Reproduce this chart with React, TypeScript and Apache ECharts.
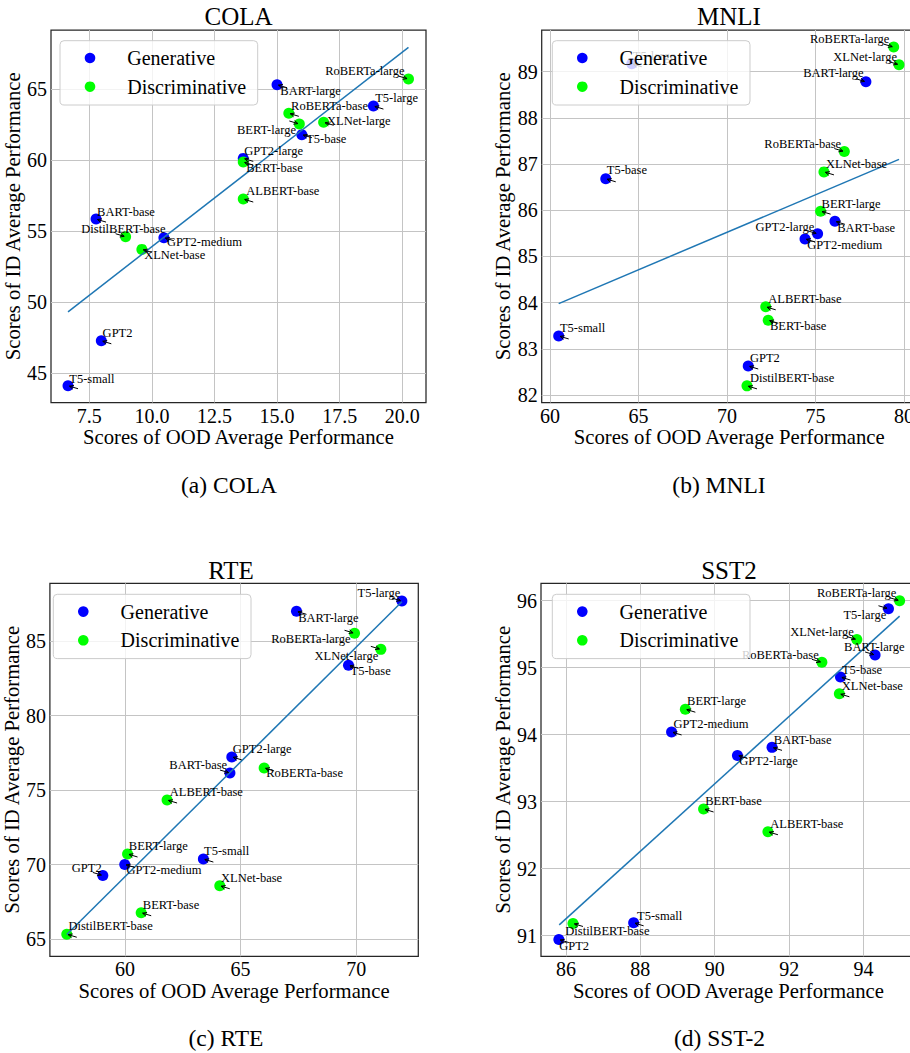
import React, { useEffect, useRef } from "react";
import * as echarts from "echarts";

const FONT = "'Liberation Serif', 'Times New Roman', Tinos, 'DejaVu Serif', serif";

type Pt = [string, number, number];

// ---------------- DATA ----------------
const SERIES_NAMES = ["Generative", "Discriminative"];

const COLA_GENERATIVE: Pt[] = [
  ["BART-large", 15.0, 65.3],
  ["T5-large", 18.85, 63.8],
  ["T5-base", 15.99, 61.79],
  ["GPT2-large", 13.65, 60.12],
  ["BART-base", 7.77, 55.85],
  ["GPT2-medium", 10.48, 54.54],
  ["GPT2", 7.98, 47.29],
  ["T5-small", 6.65, 44.13],
];
const COLA_DISCRIMINATIVE: Pt[] = [
  ["RoBERTa-large", 20.25, 65.7],
  ["RoBERTa-base", 15.47, 63.29],
  ["BERT-large", 15.89, 62.54],
  ["XLNet-large", 16.86, 62.66],
  ["BERT-base", 13.65, 59.86],
  ["ALBERT-base", 13.65, 57.26],
  ["DistilBERT-base", 8.95, 54.61],
  ["XLNet-base", 9.6, 53.72],
];
const COLA_TREND: [number, number][] = [[6.65, 49.33], [20.25, 67.93]];
const COLA_X_TICKS = [7.5, 10, 12.5, 15, 17.5, 20];
const COLA_Y_TICKS = [45, 50, 55, 60, 65];

const MNLI_GENERATIVE: Pt[] = [
  ["T5-large", 64.62, 89.17],
  ["BART-large", 77.85, 88.78],
  ["T5-base", 63.15, 86.68],
  ["BART-base", 76.1, 85.76],
  ["GPT2-large", 75.12, 85.49],
  ["GPT2-medium", 74.41, 85.38],
  ["T5-small", 60.49, 83.28],
  ["GPT2", 71.2, 82.63],
];
const MNLI_DISCRIMINATIVE: Pt[] = [
  ["RoBERTa-large", 79.42, 89.53],
  ["XLNet-large", 79.72, 89.15],
  ["RoBERTa-base", 76.63, 87.27],
  ["XLNet-base", 75.48, 86.83],
  ["BERT-large", 75.29, 85.98],
  ["ALBERT-base", 72.19, 83.91],
  ["BERT-base", 72.33, 83.62],
  ["DistilBERT-base", 71.13, 82.2],
];
const MNLI_TREND: [number, number][] = [[60.49, 83.98], [79.72, 87.1]];
const MNLI_X_TICKS = [60, 65, 70, 75, 80];
const MNLI_Y_TICKS = [82, 83, 84, 85, 86, 87, 88, 89];

const RTE_GENERATIVE: Pt[] = [
  ["T5-large", 71.98, 87.68],
  ["BART-large", 67.42, 86.99],
  ["T5-base", 69.67, 83.37],
  ["GPT2-large", 64.62, 77.23],
  ["BART-base", 64.54, 76.15],
  ["T5-small", 63.39, 70.38],
  ["GPT2-medium", 59.99, 70.02],
  ["GPT2", 59.04, 69.28],
];
const RTE_DISCRIMINATIVE: Pt[] = [
  ["RoBERTa-large", 69.93, 85.52],
  ["XLNet-large", 71.07, 84.44],
  ["RoBERTa-base", 66.02, 76.49],
  ["ALBERT-base", 61.82, 74.34],
  ["BERT-large", 60.11, 70.72],
  ["XLNet-base", 64.1, 68.59],
  ["BERT-base", 60.7, 66.78],
  ["DistilBERT-base", 57.48, 65.34],
];
const RTE_TREND: [number, number][] = [[57.48, 65.32], [71.98, 87.63]];
const RTE_X_TICKS = [60, 65, 70];
const RTE_Y_TICKS = [65, 70, 75, 80, 85];

const SST2_GENERATIVE: Pt[] = [
  ["T5-large", 94.67, 95.88],
  ["BART-large", 94.31, 95.19],
  ["T5-base", 93.38, 94.86],
  ["GPT2-medium", 88.84, 94.04],
  ["BART-base", 91.54, 93.81],
  ["GPT2-large", 90.61, 93.69],
  ["T5-small", 87.82, 91.19],
  ["GPT2", 85.81, 90.94],
];
const SST2_DISCRIMINATIVE: Pt[] = [
  ["RoBERTa-large", 94.97, 96.0],
  ["XLNet-large", 93.82, 95.42],
  ["RoBERTa-base", 92.88, 95.08],
  ["XLNet-base", 93.35, 94.61],
  ["BERT-large", 89.21, 94.38],
  ["BERT-base", 89.7, 92.89],
  ["ALBERT-base", 91.43, 92.55],
  ["DistilBERT-base", 86.19, 91.18],
];
const SST2_TREND: [number, number][] = [[85.82, 91.16], [94.97, 95.77]];
const SST2_X_TICKS = [86, 88, 90, 92, 94];
const SST2_Y_TICKS = [91, 92, 93, 94, 95, 96];

// ---------------- LAYOUT (label offsets in px, relative to point) ----------------
const COLA_LABEL_OFFSETS: Record<string, [number, number]> = {
  "BART-large": [3.3, 6], "RoBERTa-large": [-83.3, -7.7], "T5-large": [1.7, -7.8],
  "RoBERTa-base": [2.3, -7.1], "BERT-large": [-62.3, 6.5], "XLNet-large": [3.4, -1],
  "T5-base": [4.3, 4.8], "GPT2-large": [1, -7], "BERT-base": [3, 5.5], "ALBERT-base": [3, -7.7],
  "BART-base": [1, -7.3], "DistilBERT-base": [-44.3, -8], "GPT2-medium": [3, 4],
  "XLNet-base": [2.3, 5.4], "GPT2": [1.3, -7.9], "T5-small": [1.3, -7.2],
};
const MNLI_LABEL_OFFSETS: Record<string, [number, number]> = {
  "RoBERTa-large": [-83.7, -7.8], "XLNet-large": [-65.7, -8], "BART-large": [-62.7, -8.9],
  "T5-large": [1, -8], "RoBERTa-base": [-80, -8], "XLNet-base": [2, -8.2], "T5-base": [1, -8.4],
  "BERT-large": [1, -7.5], "BART-base": [2.3, 6.2], "GPT2-large": [-62, -6.8],
  "GPT2-medium": [2.3, 6], "ALBERT-base": [2.6, -7.5], "BERT-base": [1.7, 5.9],
  "T5-small": [1.3, -7.7], "GPT2": [1.7, -7.7], "DistilBERT-base": [3, -7.7],
};
const RTE_LABEL_OFFSETS: Record<string, [number, number]> = {
  "T5-large": [-44.4, -8.2], "BART-large": [1.7, 6.7], "RoBERTa-large": [-83.3, 6.2],
  "XLNet-large": [-66.3, 6.5], "T5-base": [2, 6], "GPT2-large": [1, -7.8], "BART-base": [-60.6, -8],
  "RoBERTa-base": [2, 5.5], "ALBERT-base": [2.7, -7.8], "BERT-large": [1.3, -7.7],
  "T5-small": [0.7, -7.7], "GPT2-medium": [1.7, 5.8], "GPT2": [-31, -7.9], "XLNet-base": [1.3, -8],
  "BERT-base": [1.6, -7.4], "DistilBERT-base": [1.7, -8],
};
const SST2_LABEL_OFFSETS: Record<string, [number, number]> = {
  "RoBERTa-large": [-82.6, -7.3], "T5-large": [-45, 6.3], "XLNet-large": [-66.7, -7.3],
  "BART-large": [-31, -7.8], "RoBERTa-base": [-80, -7], "T5-base": [1.4, -7], "XLNet-base": [2.4, -8],
  "BERT-large": [1.7, -8.2], "GPT2-medium": [2, -8], "BART-base": [1.6, -7.8], "GPT2-large": [1.7, 6],
  "BERT-base": [1.7, -7.8], "ALBERT-base": [2.3, -7.6], "T5-small": [3.4, -7],
  "DistilBERT-base": [-7.7, 7.6], "GPT2": [0.3, 6.2],
};

const COLORS = ["#0000ff", "#00ff00"];

const PANELS = [
  {
    title: "COLA", caption: "(a) COLA", titlePos: [238.5, 16.7], captionPos: [229, 484.5],
    gen: COLA_GENERATIVE, disc: COLA_DISCRIMINATIVE, trend: COLA_TREND,
    xTicks: COLA_X_TICKS, yTicks: COLA_Y_TICKS, xDec: 1,
    grid: { left: 51, top: 30, width: 375, height: 372.5 },
    xRange: [5.97, 20.95], yRange: [42.95, 69.15],
    legendPos: [60, 40.7], offsets: COLA_LABEL_OFFSETS,
  },
  {
    title: "MNLI", caption: "(b) MNLI", titlePos: [729, 16.7], captionPos: [719, 484.5],
    gen: MNLI_GENERATIVE, disc: MNLI_DISCRIMINATIVE, trend: MNLI_TREND,
    xTicks: MNLI_X_TICKS, yTicks: MNLI_Y_TICKS, xDec: 0,
    grid: { left: 541.7, top: 30, width: 375, height: 372.5 },
    xRange: [59.53, 80.72], yRange: [81.84, 89.9],
    legendPos: [552.3, 40.7], offsets: MNLI_LABEL_OFFSETS,
  },
  {
    title: "RTE", caption: "(c) RTE", titlePos: [231, 570.8], captionPos: [226, 1037.5],
    gen: RTE_GENERATIVE, disc: RTE_DISCRIMINATIVE, trend: RTE_TREND,
    xTicks: RTE_X_TICKS, yTicks: RTE_Y_TICKS, xDec: 0,
    grid: { left: 42.7, top: 583.3, width: 375.6, height: 373 },
    xRange: [56.75, 72.69], yRange: [63.86, 88.87],
    legendPos: [53.3, 594.3], offsets: RTE_LABEL_OFFSETS,
  },
  {
    title: "SST2", caption: "(d) SST-2", titlePos: [729, 570.8], captionPos: [719.5, 1037.5],
    gen: SST2_GENERATIVE, disc: SST2_DISCRIMINATIVE, trend: SST2_TREND,
    xTicks: SST2_X_TICKS, yTicks: SST2_Y_TICKS, xDec: 0,
    grid: { left: 541, top: 583.3, width: 375, height: 373 },
    xRange: [85.33, 95.41], yRange: [90.69, 96.26],
    legendPos: [552.3, 594.3], offsets: SST2_LABEL_OFFSETS,
  },
];

function makeLabelRenderer(names: string[], offsets: Record<string, [number, number]>) {
  return (params: any, api: any) => {
    const name = names[params.dataIndex];
    const p = api.coord([api.value(0), api.value(1)]);
    const [dx, dy] = offsets[name] || [2, -8];
    const leftSide = dx < -10;
    const tail = leftSide ? [p[0] - 10, p[1] - 3] : [p[0] + 10, p[1] + 3];
    const ang = Math.atan2(p[1] - tail[1], p[0] - tail[0]);
    const head = [p[0] - Math.cos(ang) * 1.5, p[1] - Math.sin(ang) * 1.5];
    const hl = 4.5;
    const ha = 0.45;
    const w1 = [head[0] - hl * Math.cos(ang - ha), head[1] - hl * Math.sin(ang - ha)];
    const w2 = [head[0] - hl * Math.cos(ang + ha), head[1] - hl * Math.sin(ang + ha)];
    return {
      type: "group",
      children: [
        { type: "line", shape: { x1: tail[0], y1: tail[1], x2: head[0], y2: head[1] }, style: { stroke: "#000", lineWidth: 1 } },
        { type: "polyline", shape: { points: [w1, head, w2] }, style: { stroke: "#000", lineWidth: 1, fill: null } },
        {
          type: "text", x: p[0] + dx, y: p[1] + dy,
          style: { text: name, fontFamily: FONT, fontSize: 12.5, fill: "#000", align: "left", verticalAlign: "middle" },
        },
      ],
    };
  };
}

function buildOption() {
  const grid: any[] = [];
  const xAxis: any[] = [];
  const yAxis: any[] = [];
  const series: any[] = [];
  const graphic: any[] = [];

  PANELS.forEach((pn, i) => {
    grid.push({ ...pn.grid, show: true, borderColor: "#262626", borderWidth: 1.25, backgroundColor: "transparent", containLabel: false });
    xAxis.push({
      gridIndex: i, type: "value", min: pn.xRange[0], max: pn.xRange[1],
      axisLine: { show: false }, axisTick: { show: false, customValues: pn.xTicks },
      axisLabel: {
        customValues: pn.xTicks, fontFamily: FONT, fontSize: 20, color: "#000", margin: 3,
        formatter: (v: number) => v.toFixed(pn.xDec),
      },
      splitLine: { show: true, lineStyle: { color: "#c4c4c4", width: 1 } },
      name: "Scores of OOD Average Performance", nameLocation: "middle", nameGap: 18,
      nameTextStyle: { fontFamily: FONT, fontSize: 20.7, color: "#000" },
    });
    yAxis.push({
      gridIndex: i, type: "value", min: pn.yRange[0], max: pn.yRange[1],
      axisLine: { show: false }, axisTick: { show: false, customValues: pn.yTicks },
      axisLabel: { customValues: pn.yTicks, fontFamily: FONT, fontSize: 20, color: "#000", margin: 4, formatter: (v: number) => String(v) },
      splitLine: { show: true, lineStyle: { color: "#c4c4c4", width: 1 } },
      name: "Scores of ID Average Performance", nameLocation: "middle", nameGap: 22,
      nameTextStyle: { fontFamily: FONT, fontSize: 20.7, color: "#000" },
    });
    series.push({
      name: SERIES_NAMES[0], type: "scatter", xAxisIndex: i, yAxisIndex: i,
      data: pn.gen.map((d) => [d[1], d[2]]), symbolSize: 11,
      itemStyle: { color: COLORS[0], opacity: 1 }, z: 2, silent: true,
    });
    series.push({
      name: SERIES_NAMES[1], type: "scatter", xAxisIndex: i, yAxisIndex: i,
      data: pn.disc.map((d) => [d[1], d[2]]), symbolSize: 11,
      itemStyle: { color: COLORS[1], opacity: 1 }, z: 2, silent: true,
    });
    series.push({
      name: "trend-" + pn.title, type: "line", xAxisIndex: i, yAxisIndex: i,
      data: pn.trend, showSymbol: false, symbol: "none",
      lineStyle: { color: "#1f77b4", width: 1.5 }, z: 3, silent: true,
    });
    const all = [...pn.gen, ...pn.disc];
    series.push({
      name: "labels-" + pn.title, type: "custom", xAxisIndex: i, yAxisIndex: i,
      coordinateSystem: "cartesian2d", clip: false, silent: true, z: 4,
      data: all.map((d) => [d[1], d[2]]), encode: { x: 0, y: 1 },
      renderItem: makeLabelRenderer(all.map((d) => d[0]), pn.offsets),
    });
    const [lx, ly] = pn.legendPos;
    graphic.push({
      type: "group", x: lx, y: ly, z: 100, silent: true,
      children: [
        {
          type: "rect", shape: { x: 0, y: 0, width: 197.7, height: 64.3, r: 4 },
          style: { fill: "rgba(255,255,255,0.8)", stroke: "#cccccc", lineWidth: 1 }, z: 100,
        },
        ...SERIES_NAMES.flatMap((nm, k) => [
          { type: "circle", shape: { cx: 30, cy: 17.3 + k * 28.7, r: 5.3 }, style: { fill: COLORS[k] }, z: 101 },
          {
            type: "text", x: 67.3, y: 17.3 + k * 28.7, z: 101,
            style: { text: nm, fontFamily: FONT, fontSize: 20, fill: "#000", align: "left", verticalAlign: "middle" },
          },
        ]),
      ],
    });
    graphic.push({
      type: "text", x: pn.titlePos[0], y: pn.titlePos[1],
      style: { text: pn.title, fontFamily: FONT, fontSize: 25, fill: "#000", align: "center", verticalAlign: "middle" },
    });
    graphic.push({
      type: "text", x: pn.captionPos[0], y: pn.captionPos[1],
      style: { text: pn.caption, fontFamily: FONT, fontSize: 23.5, fill: "#000", align: "center", verticalAlign: "middle" },
    });
  });

  return { animation: false, backgroundColor: "#fff", textStyle: { fontFamily: FONT }, grid, xAxis, yAxis, series, graphic };
}

export default function App() {
  const ref = useRef<HTMLDivElement>(null);
  useEffect(() => {
    const chart = echarts.init(ref.current as HTMLDivElement, undefined, { renderer: "svg", width: 930, height: 1053 });
    chart.setOption(buildOption() as any);
    return () => chart.dispose();
  }, []);
  return (
    <div style={{ position: "fixed", left: 0, top: 0, width: 910, height: 1053, overflow: "hidden", background: "#fff" }}>
      <div ref={ref} style={{ width: 930, height: 1053 }} />
    </div>
  );
}
